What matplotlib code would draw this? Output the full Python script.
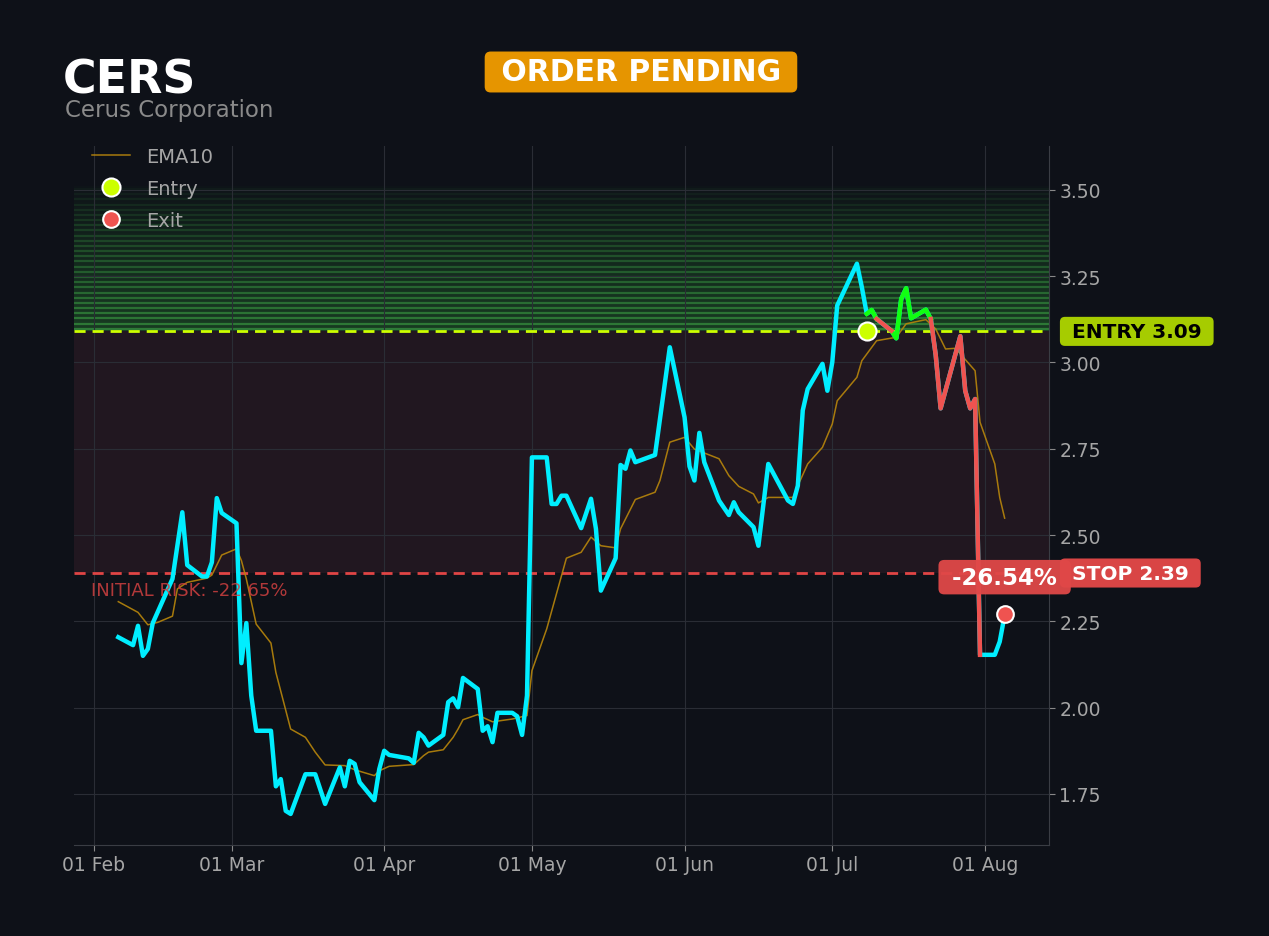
import numpy as np
import pandas as pd
import matplotlib
matplotlib.use("Agg")
import matplotlib.pyplot as plt
import matplotlib.dates as mdates
from matplotlib.transforms import blended_transform_factory

# price path
price_dates = [
    "2025-02-06", "2025-02-09", "2025-02-10", "2025-02-11", "2025-02-12", "2025-02-13",
    "2025-02-17", "2025-02-19", "2025-02-20", "2025-02-23", "2025-02-24", "2025-02-25",
    "2025-02-26", "2025-02-27", "2025-03-02", "2025-03-03", "2025-03-04", "2025-03-05",
    "2025-03-06", "2025-03-09", "2025-03-10", "2025-03-11", "2025-03-12", "2025-03-13",
    "2025-03-16", "2025-03-18", "2025-03-20", "2025-03-23", "2025-03-24", "2025-03-25",
    "2025-03-26", "2025-03-27", "2025-03-30", "2025-03-31", "2025-04-01", "2025-04-02",
    "2025-04-06", "2025-04-07", "2025-04-08", "2025-04-09", "2025-04-10", "2025-04-13",
    "2025-04-14", "2025-04-15", "2025-04-16", "2025-04-17", "2025-04-20", "2025-04-21",
    "2025-04-22", "2025-04-23", "2025-04-24", "2025-04-27", "2025-04-28", "2025-04-29",
    "2025-04-30", "2025-05-01", "2025-05-04", "2025-05-05", "2025-05-06", "2025-05-07",
    "2025-05-08", "2025-05-11", "2025-05-13", "2025-05-14", "2025-05-15", "2025-05-18",
    "2025-05-19", "2025-05-20", "2025-05-21", "2025-05-22", "2025-05-26", "2025-05-29",
    "2025-06-01", "2025-06-02", "2025-06-03", "2025-06-04", "2025-06-05", "2025-06-08",
    "2025-06-10", "2025-06-11", "2025-06-12", "2025-06-15", "2025-06-16", "2025-06-18",
    "2025-06-22", "2025-06-23", "2025-06-24", "2025-06-25", "2025-06-26", "2025-06-29",
    "2025-06-30", "2025-07-01", "2025-07-02", "2025-07-06", "2025-07-07", "2025-07-08",
    "2025-07-09", "2025-07-10", "2025-07-13", "2025-07-14", "2025-07-15", "2025-07-16",
    "2025-07-17", "2025-07-20", "2025-07-21", "2025-07-22", "2025-07-23", "2025-07-27",
    "2025-07-28", "2025-07-29", "2025-07-30", "2025-07-31", "2025-08-03", "2025-08-04",
    "2025-08-05",
]
price_vals = [
    2.204, 2.181, 2.237, 2.150, 2.170, 2.245,
    2.373, 2.566, 2.413, 2.380, 2.380, 2.421,
    2.607, 2.564, 2.534, 2.129, 2.245, 2.035,
    1.933, 1.933, 1.772, 1.793, 1.701, 1.692,
    1.807, 1.807, 1.721, 1.827, 1.772, 1.846,
    1.837, 1.784, 1.732, 1.822, 1.875, 1.863,
    1.853, 1.840, 1.927, 1.914, 1.890, 1.921,
    2.016, 2.027, 2.001, 2.086, 2.054, 1.933,
    1.946, 1.900, 1.985, 1.985, 1.975, 1.921,
    2.035, 2.725, 2.725, 2.590, 2.590, 2.614,
    2.614, 2.520, 2.605, 2.518, 2.339, 2.433,
    2.703, 2.692, 2.745, 2.711, 2.732, 3.044,
    2.841, 2.699, 2.658, 2.796, 2.711, 2.600,
    2.558, 2.595, 2.566, 2.523, 2.469, 2.706,
    2.600, 2.590, 2.643, 2.861, 2.923, 2.996,
    2.918, 3.001, 3.165, 3.286, 3.218, 3.141,
    3.152, 3.126, 3.092, 3.070, 3.184, 3.215,
    3.128, 3.153, 3.126, 3.022, 2.867, 3.076,
    2.918, 2.867, 2.894, 2.153, 2.153, 2.191,
    2.268,
]

ema_dates = [
    "2025-02-06", "2025-02-10", "2025-02-12", "2025-02-14", "2025-02-17", "2025-02-18",
    "2025-02-20", "2025-02-24", "2025-02-25", "2025-02-27", "2025-03-02", "2025-03-03",
    "2025-03-04", "2025-03-06", "2025-03-09", "2025-03-10", "2025-03-13", "2025-03-16",
    "2025-03-18", "2025-03-20", "2025-03-24", "2025-03-26", "2025-03-30", "2025-03-31",
    "2025-04-02", "2025-04-07", "2025-04-09", "2025-04-10", "2025-04-13", "2025-04-15",
    "2025-04-16", "2025-04-17", "2025-04-20", "2025-04-21", "2025-04-23", "2025-04-27",
    "2025-04-30", "2025-05-01", "2025-05-04", "2025-05-08", "2025-05-11", "2025-05-13",
    "2025-05-15", "2025-05-18", "2025-05-19", "2025-05-22", "2025-05-26", "2025-05-27",
    "2025-05-29", "2025-06-01", "2025-06-03", "2025-06-08", "2025-06-10", "2025-06-12",
    "2025-06-15", "2025-06-16", "2025-06-18", "2025-06-23", "2025-06-24", "2025-06-26",
    "2025-06-29", "2025-07-01", "2025-07-02", "2025-07-06", "2025-07-07", "2025-07-10",
    "2025-07-14", "2025-07-16", "2025-07-20", "2025-07-22", "2025-07-24", "2025-07-26",
    "2025-07-30", "2025-07-31", "2025-08-03", "2025-08-04", "2025-08-05",
]
ema_vals = [
    2.307, 2.276, 2.240, 2.247, 2.265, 2.344,
    2.363, 2.375, 2.384, 2.442, 2.460, 2.426,
    2.373, 2.242, 2.187, 2.102, 1.938, 1.914,
    1.871, 1.834, 1.832, 1.820, 1.803, 1.817,
    1.830, 1.835, 1.861, 1.871, 1.878, 1.914,
    1.938, 1.965, 1.980, 1.972, 1.959, 1.967,
    1.977, 2.107, 2.228, 2.433, 2.450, 2.494,
    2.469, 2.463, 2.518, 2.603, 2.624, 2.658,
    2.769, 2.783, 2.749, 2.721, 2.672, 2.641,
    2.619, 2.593, 2.609, 2.609, 2.643, 2.706,
    2.754, 2.822, 2.889, 2.957, 3.005, 3.063,
    3.073, 3.112, 3.124, 3.097, 3.039, 3.041,
    2.976, 2.827, 2.706, 2.609, 2.549,
]

ticker = "CERS"
company = "Cerus Corporation"
status = "ORDER PENDING"
entry_price = 3.09
stop_price = 2.39
target_top = 3.51
entry_date = "2025-07-08"
exit_date = "2025-08-05"
exit_price = 2.27
initial_risk = -22.65
result_pct = -26.54
green_runs = [("2025-07-08", "2025-07-10"), ("2025-07-13", "2025-07-21")]
red_runs = [("2025-07-10", "2025-07-13"), ("2025-07-21", "2025-07-31")]

BG = "#0e1118"
CYAN = "#00eeff"
GREEN = "#11ff11"
RED = "#ef5350"
LIME = "#ccff00"
GREY = "#a6a6a6"

price = pd.DataFrame({"date": pd.to_datetime(price_dates), "close": price_vals})
ema = pd.DataFrame({"date": pd.to_datetime(ema_dates), "ema": ema_vals})

fig = plt.figure(figsize=(12.69, 9.37), dpi=100, facecolor=BG)
ax = fig.add_axes([0.0583, 0.0971, 0.7683, 0.7460])
ax.set_facecolor(BG)

# zones
ax.axhspan(stop_price, entry_price, color="#211720", lw=0, zorder=0)
n = 28
edges = np.linspace(entry_price, target_top, n + 1)
for i in range(n):
    a = 0.78 * (1 - i / n) + 0.04
    ax.axhspan(edges[i], edges[i + 1], color="#1a4424", alpha=a, lw=0, zorder=0)
    ax.axhline(edges[i] + (edges[1] - edges[0]) * 0.5, color="#33893c", alpha=a, lw=1.6, zorder=0)

ax.axhline(entry_price, color=LIME, lw=2, ls=(0, (4, 2.5)), zorder=2)
ax.axhline(stop_price, color="#e04545", lw=2, ls=(0, (4, 2.5)), zorder=2)

ax.plot(ema.date, ema.ema, color="#b8860b", lw=1.1, alpha=0.9, label="EMA10", zorder=3)
ax.plot(price.date, price.close, color=CYAN, lw=3.2, zorder=4)
for s, e in green_runs:
    seg = price[(price.date >= s) & (price.date <= e)]
    ax.plot(seg.date, seg.close, color=GREEN, lw=3.2, zorder=5)
for s, e in red_runs:
    seg = price[(price.date >= s) & (price.date <= e)]
    ax.plot(seg.date, seg.close, color=RED, lw=3.2, zorder=5)

ax.plot(pd.to_datetime([entry_date]), [entry_price], "o", ms=13, color=LIME,
        mec="white", mew=1.5, ls="none", label="Entry", zorder=6)
ax.plot(pd.to_datetime([exit_date]), [exit_price], "o", ms=12, color=RED,
        mec="white", mew=1.5, ls="none", label="Exit", zorder=6)

# axes styling
x0 = mdates.date2num(pd.Timestamp("2025-02-06")) - 9
x1 = mdates.date2num(pd.Timestamp("2025-08-05")) + 9
ax.set_xlim(x0, x1)
ax.set_ylim(1.602, 3.627)
ax.xaxis.set_major_locator(mdates.MonthLocator())
ax.xaxis.set_major_formatter(mdates.DateFormatter("%d %b"))
ax.set_yticks(np.arange(1.75, 3.51, 0.25))
ax.yaxis.set_major_formatter(plt.FormatStrFormatter("%.2f"))
ax.yaxis.tick_right()
ax.tick_params(colors="#888888", labelcolor=GREY, labelsize=13.5, length=4)
ax.grid(True, color="#2a2d35", lw=0.8)
ax.set_axisbelow(True)
for side in ["left", "top"]:
    ax.spines[side].set_visible(False)
for side in ["right", "bottom"]:
    ax.spines[side].set_color("#3a3d44")

leg = ax.legend(loc="upper left", bbox_to_anchor=(0.01, 1.01), borderaxespad=0,
                frameon=False, fontsize=14, handlelength=2.0, labelspacing=0.68)
for t in leg.get_texts():
    t.set_color(GREY)

# labels
tr = blended_transform_factory(ax.transAxes, ax.transData)
ax.text(1.0164, entry_price, " ENTRY %.2f " % entry_price, transform=tr, ha="left", va="center",
        fontsize=14.5, fontweight="bold", color="black",
        bbox=dict(boxstyle="round,pad=0.25,rounding_size=0.25", fc="#a6cc00", ec="none"), clip_on=False)
ax.text(1.0164, stop_price, " STOP %.2f " % stop_price, transform=tr, ha="left", va="center",
        fontsize=14.5, fontweight="bold", color="white",
        bbox=dict(boxstyle="round,pad=0.25,rounding_size=0.25", fc="#d94545", ec="none"), clip_on=False)
ax.text(pd.Timestamp(exit_date), 2.378, " %.2f%% " % result_pct, ha="center", va="center",
        fontsize=16.5, fontweight="bold", color="white", zorder=8,
        bbox=dict(boxstyle="round,pad=0.25,rounding_size=0.25", fc="#e04848", ec="none", alpha=0.95),
        clip_on=False)
ax.text(0.0174, 2.342, "INITIAL RISK: %.2f%%" % initial_risk, transform=tr, ha="left", va="center",
        fontsize=13, color="#d04040", alpha=0.85, zorder=7)

fig.text(0.0496, 0.9007, ticker, fontsize=33, fontweight="bold", color="white", va="baseline")
fig.text(0.0512, 0.8751, company, fontsize=16.5, color="#8a8a8a", va="baseline")
fig.text(0.5051, 0.9221, " " + status + " ", fontsize=21.5, fontweight="bold", color="white",
         ha="center", va="center",
         bbox=dict(boxstyle="round,pad=0.2,rounding_size=0.2", fc="#e69500", ec="none"))

fig.savefig("out.png", dpi=100, facecolor=BG)
plt.close(fig)
